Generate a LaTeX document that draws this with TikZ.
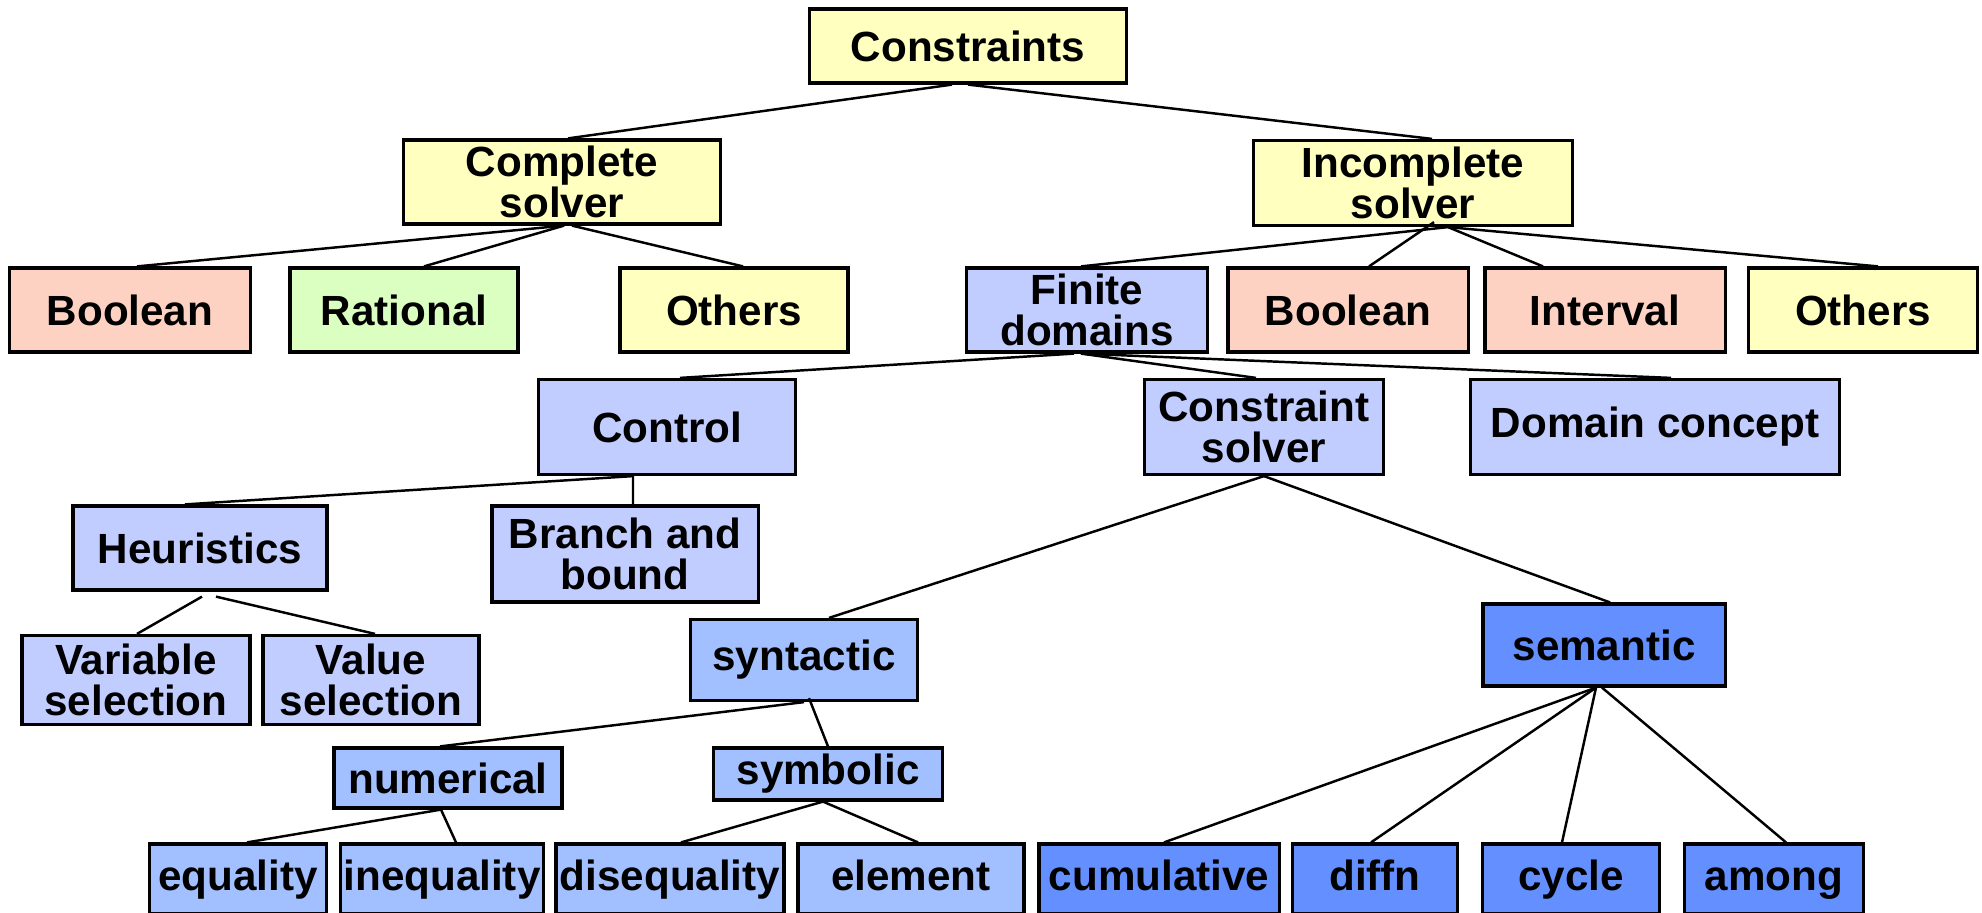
\documentclass[tikz,border=0pt]{standalone}
\usepackage{fontspec}
\setmainfont{Liberation Sans}
\definecolor{cyel}{RGB}{255,255,192}
\definecolor{csal}{RGB}{253,210,194}
\definecolor{cgrn}{RGB}{218,255,192}
\definecolor{clbl}{RGB}{194,205,255}
\definecolor{cmbl}{RGB}{162,192,255}
\definecolor{cdbl}{RGB}{100,144,255}
\begin{document}
\begin{tikzpicture}[x=0.01cm,y=-0.01cm,
  bx/.style={draw=black,line width=0.9pt,align=center,inner sep=0pt,font=\fontsize{12}{11.5}\selectfont\bfseries},
  sz/.style 2 args={minimum width=#1,minimum height=#2},
  yb/.style={bx,fill=cyel}, sb/.style={bx,fill=csal}, gb/.style={bx,fill=cgrn},
  lb/.style={bx,fill=clbl}, mb/.style={bx,fill=cmbl}, db/.style={bx,fill=cdbl},
  bt/.style={text height=9pt,text depth=2.5pt},
  ln/.style={line width=0.7pt}]
\useasboundingbox (0,0) rectangle (1982,912);
\node[yb,sz={3.17cm}{0.74cm}] (cons) at (968,46) {Constraints};
\node[yb,sz={3.17cm}{0.84cm}] (comp) at (562,182) {Complete\\solver};
\node[yb,sz={3.19cm}{0.85cm}] (incomp) at (1413,183) {Incomplete\\solver};
\node[sb,sz={2.41cm}{0.84cm}] (boolA) at (130,310) {Boolean};
\node[gb,sz={2.28cm}{0.84cm}] (rat) at (404,310) {Rational};
\node[yb,sz={2.28cm}{0.84cm}] (othA) at (734,310) {Others};
\node[lb,sz={2.41cm}{0.84cm}] (fd) at (1087,310) {Finite\\domains};
\node[sb,sz={2.40cm}{0.84cm}] (boolB) at (1348,310) {Boolean};
\node[sb,sz={2.40cm}{0.84cm}] (intv) at (1605,310) {Interval};
\node[yb,sz={2.29cm}{0.84cm}] (othB) at (1863,310) {Others};
\node[lb,sz={2.57cm}{0.95cm}] (ctrl) at (667,427) {Control};
\node[lb,sz={2.39cm}{0.95cm}] (csolv) at (1264,427) {Constraint\\solver};
\node[lb,sz={3.68cm}{0.95cm}] (dom) at (1655,427) {Domain concept};
\node[lb,sz={2.54cm}{0.84cm}] (heur) at (200,548) {Heuristics};
\node[lb,sz={2.66cm}{0.96cm}] (bnb) at (625,554) {Branch and\\bound};
\node[lb,sz={2.28cm}{0.89cm}] (varsel) at (136,680) {Variable\\selection};
\node[lb,sz={2.16cm}{0.89cm}] (valsel) at (371,680) {Value\\selection};
\node[mb,sz={2.27cm}{0.81cm}] (syn) at (804,660) {syntactic};
\node[db,sz={2.42cm}{0.82cm}] (sem) at (1604,645) {semantic};
\node[mb,sz={2.28cm}{0.60cm}] (num) at (448,778) {numerical};
\node[mb,sz={2.29cm}{0.52cm}] (sym) at (828,774) {symbolic};
\node[mb,bt,sz={1.77cm}{0.70cm}] (eq) at (238,879) {equality};
\node[mb,bt,sz={2.03cm}{0.70cm}] (ineq) at (442,879) {inequality};
\node[mb,bt,sz={2.28cm}{0.70cm}] (diseq) at (670,879) {disequality};
\node[mb,bt,sz={2.26cm}{0.70cm}] (elem) at (911,879) {element};
\node[db,bt,sz={2.40cm}{0.70cm}] (cum) at (1159,879) {cumulative};
\node[db,bt,sz={1.65cm}{0.70cm}] (diffn) at (1375,879) {diffn};
\node[db,bt,sz={1.77cm}{0.70cm}] (cycle) at (1571,879) {cycle};
\node[db,bt,sz={1.79cm}{0.70cm}] (among) at (1774,879) {among};
\draw[ln] ([xshift=-0.16cm]cons.south) -- ([xshift=0.06cm]comp.north);
\draw[ln] (cons.south) -- ([xshift=0.19cm]incomp.north);
\draw[ln] ([xshift=0.02cm]comp.south) -- ([xshift=0.07cm]boolA.north);
\draw[ln] ([xshift=0.02cm]comp.south) -- ([xshift=0.20cm]rat.north);
\draw[ln] ([xshift=0.10cm]comp.south) -- ([xshift=0.09cm]othA.north);
\draw[ln] ([xshift=0.35cm]incomp.south) -- ([xshift=-0.06cm]fd.north);
\draw[ln] ([xshift=0.21cm,yshift=0.05cm]incomp.south) -- ([xshift=0.21cm]boolB.north);
\draw[ln] ([xshift=0.35cm]incomp.south) -- ([xshift=-0.62cm]intv.north);
\draw[ln] ([xshift=0.35cm]incomp.south) -- ([xshift=0.15cm]othB.north);
\draw[ln] ([xshift=-0.13cm]fd.south) -- ([xshift=0.13cm]ctrl.north);
\draw[ln] ([xshift=-0.06cm]fd.south) -- ([xshift=-0.08cm]csolv.north);
\draw[ln] ([xshift=-0.06cm]fd.south) -- ([xshift=0.16cm]dom.north);
\draw[ln] ([xshift=-0.34cm]ctrl.south) -- ([xshift=-0.15cm]heur.north);
\draw[ln] ([xshift=-0.34cm]ctrl.south) -- ([xshift=0.08cm]bnb.north);
\draw[ln] ([xshift=0.02cm,yshift=-0.05cm]heur.south) -- ([xshift=0.01cm]varsel.north);
\draw[ln] ([xshift=0.16cm,yshift=-0.05cm]heur.south) -- ([xshift=0.04cm]valsel.north);
\draw[ln] (csolv.south) -- ([xshift=0.25cm]syn.north);
\draw[ln] (csolv.south) -- ([xshift=0.06cm]sem.north);
\draw[ln] (syn.south) -- ([xshift=-0.08cm]num.north);
\draw[ln] ([xshift=0.05cm,yshift=0.04cm]syn.south) -- (sym.north);
\draw[ln] ([xshift=-0.07cm]num.south) -- ([xshift=0.09cm]eq.north);
\draw[ln] ([xshift=-0.07cm]num.south) -- ([xshift=0.14cm]ineq.north);
\draw[ln] ([xshift=-0.05cm]sym.south) -- ([xshift=0.11cm]diseq.north);
\draw[ln] ([xshift=-0.05cm]sym.south) -- ([xshift=0.07cm]elem.north);
\draw[ln] ([xshift=-0.08cm]sem.south) -- ([xshift=0.05cm]cum.north);
\draw[ln] ([xshift=-0.08cm]sem.south) -- ([xshift=-0.04cm]diffn.north);
\draw[ln] ([xshift=-0.08cm]sem.south) -- ([xshift=-0.09cm]cycle.north);
\draw[ln] ([xshift=-0.02cm]sem.south) -- ([xshift=0.12cm]among.north);
\end{tikzpicture}
\end{document}
